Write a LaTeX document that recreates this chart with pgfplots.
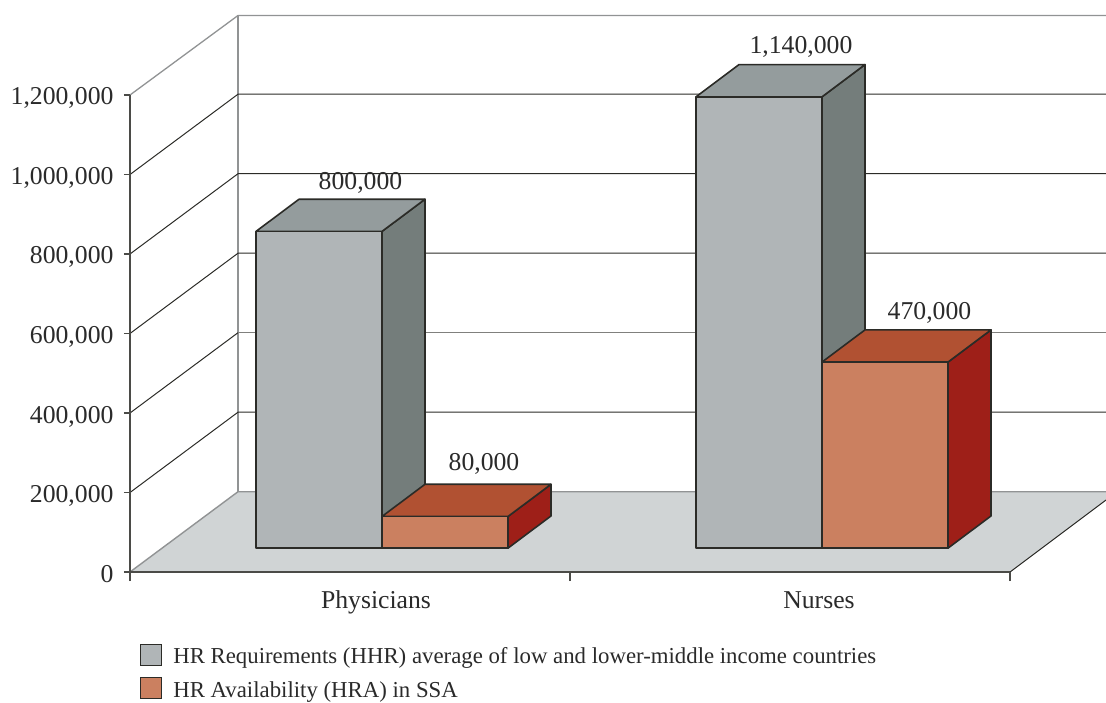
\documentclass[border=0pt]{standalone}
\usepackage{fontspec}
\setmainfont{Liberation Serif}
\usepackage{pgfplots}
\pgfplotsset{compat=1.18}

\definecolor{txt}{HTML}{2A2A2A}
\definecolor{edge}{HTML}{2B2B27}
\definecolor{wall}{HTML}{919394}
\definecolor{floorc}{HTML}{D0D4D5}
\definecolor{hhrf}{HTML}{B0B5B7}
\definecolor{hhrt}{HTML}{949C9D}
\definecolor{hhrs}{HTML}{747D7B}
\definecolor{hraf}{HTML}{CB8060}
\definecolor{hrat}{HTML}{B15132}
\definecolor{hras}{HTML}{9E1F18}

% one 3D bar: left x, right x, value (thousands), front, top and side colour
\newcommand{\cube}[6]{%
  \pgfmathsetmacro{\xa}{#1}%
  \pgfmathsetmacro{\xb}{#2}%
  \pgfmathsetmacro{\xc}{#2+43}%
  \pgfmathsetmacro{\xd}{#1+43}%
  \pgfmathsetmacro{\ya}{60}%
  \pgfmathsetmacro{\yb}{60+#3*0.996}%
  \pgfmathsetmacro{\yc}{141}%
  \pgfmathsetmacro{\yd}{141+#3*0.996}%
  \addplot[forget plot, draw=edge, line width=1.6pt, line join=round, fill=#6] coordinates {(\xb,\ya) (\xc,\yc) (\xc,\yd) (\xb,\yb)} -- cycle;
  \addplot[forget plot, draw=edge, line width=1.6pt, line join=round, fill=#5] coordinates {(\xa,\yb) (\xb,\yb) (\xc,\yd) (\xd,\yd)} -- cycle;
  \addplot[forget plot, draw=edge, line width=1.6pt, line join=round, fill=#4] coordinates {(\xa,\ya) (\xb,\ya) (\xb,\yb) (\xa,\yb)} -- cycle;
}

\begin{document}
\begin{tikzpicture}
\useasboundingbox (-130pt,-130pt) rectangle (976pt,572pt);
\begin{axis}[
  at={(0pt,0pt)}, anchor=south west,
  scale only axis, width=880pt, height=477pt,
  xmin=130, xmax=1010, ymin=0, ymax=1200,
  clip=false, axis on top,
  axis x line*=bottom, axis y line*=left,
  axis line style={draw=edge!85!white, line width=1.3pt, -},
  tick align=outside, major tick length=6pt, minor tick length=9pt,
  tick style={draw=edge!85!white, line width=1.1pt},
  font=\fontsize{25.7}{30}\selectfont,
  tick label style={text=txt},
  xtick={376,819}, xticklabels={Physicians,Nurses},
  xtick style={draw=none},
  minor x tick style={draw=edge!85!white, line width=1.1pt},
  minor xtick={130,570,1010},
  xticklabel style={yshift=-9pt, text height=18pt, text depth=6pt},
  ytick={0,200,400,600,800,1000,1200},
  yticklabels={0,{200,000},{400,000},{600,000},{800,000},{1,000,000},{1,200,000}},
  yticklabel style={xshift=-7pt, text height=20pt, text depth=0pt},
  legend style={at={(axis cs:140,-180)}, anchor=north west, draw=none, fill=none, inner sep=0pt, outer sep=0pt,
    font=\fontsize{22.8}{26}\selectfont, text=txt, row sep=11pt,
    nodes={inner sep=0pt, anchor=west}, column sep=11pt},
  legend cell align=left,
]
% floor
\addplot[forget plot, draw=none, fill=floorc] coordinates {(130,0) (1010,0) (1106,181) (1106,202) (238,202)} -- cycle;
\addplot[forget plot, draw=wall, line width=1.4pt] coordinates {(130,0) (238,202) (1106,202)};
\addplot[forget plot, draw=edge, line width=1pt] coordinates {(1010,0) (1106,181)};
% back wall and grid
\addplot[forget plot, draw=wall, line width=1.4pt] coordinates {(238,202) (238,1400)};
\addplot[forget plot, draw=wall, line width=1.3pt] coordinates {(130,1200) (238,1400) (1106,1400)};
\addplot[forget plot, draw=edge, line width=1pt] coordinates {(130,200) (238,402) (1106,402)};
\addplot[forget plot, draw=edge, line width=1pt] coordinates {(130,400) (238,602)};
\addplot[forget plot, draw=edge!60!white, line width=1pt] coordinates {(238,602) (1106,602)};
\addplot[forget plot, draw=edge, line width=1pt] coordinates {(130,600) (238,802) (1106,802)};
\addplot[forget plot, draw=edge, line width=1pt] coordinates {(130,800) (238,1002) (1106,1002)};
\addplot[forget plot, draw=edge, line width=1pt] coordinates {(130,1000) (238,1202) (1106,1202)};
% bars
\cube{256}{382}{800}{hhrf}{hhrt}{hhrs}
\cube{382}{508}{80}{hraf}{hrat}{hras}
\cube{696}{822}{1140}{hhrf}{hhrt}{hhrs}
\cube{822}{948}{470}{hraf}{hrat}{hras}
% value labels
\node[text=txt] at (axis cs:360.5,980) {800,000};
\node[text=txt] at (axis cs:484,273) {80,000};
\node[text=txt] at (axis cs:801,1321) {1,140,000};
\node[text=txt] at (axis cs:929.5,651) {470,000};
% legend
\pgfplotsset{legend image code/.code={\draw[#1] (0pt,-8.5pt) rectangle (21pt,12.5pt);}}
\addlegendimage{draw=edge, line width=1.3pt, fill=hhrf}
\addlegendentry{HR Requirements (HHR) average of low and lower-middle income countries}
\addlegendimage{draw=edge, line width=1.3pt, fill=hraf}
\addlegendentry{HR Availability (HRA) in SSA}
\end{axis}
\end{tikzpicture}
\end{document}
